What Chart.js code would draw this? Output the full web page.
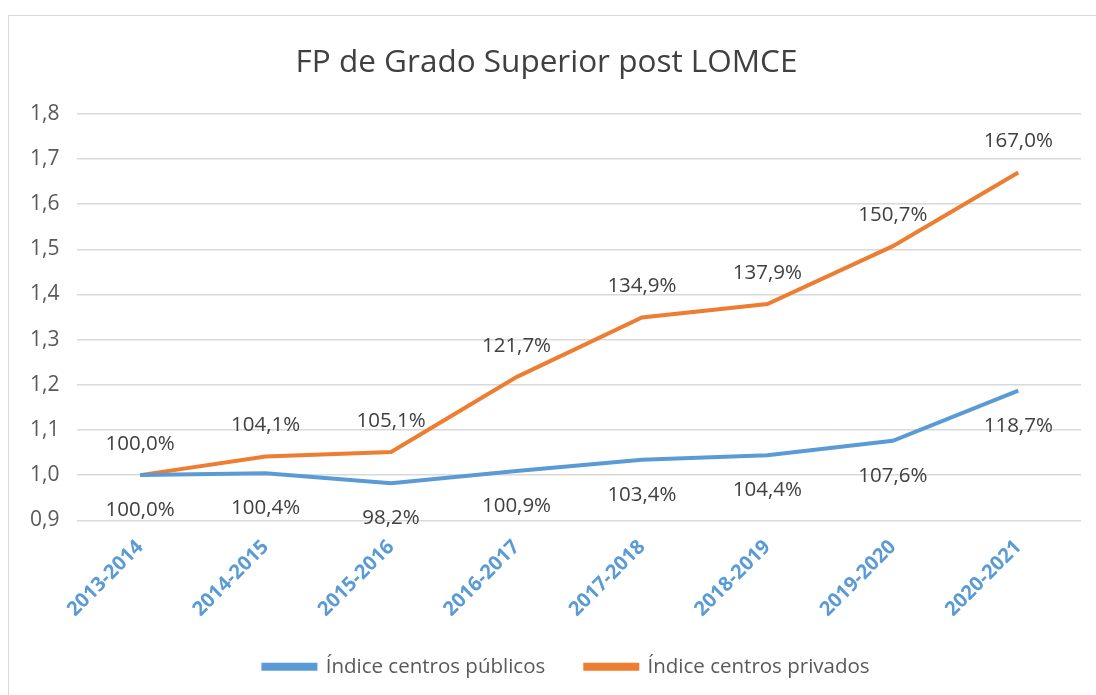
<!DOCTYPE html>
<html>
<head>
<meta charset="utf-8">
<script src="https://cdn.jsdelivr.net/npm/chart.js@4.4.0/dist/chart.umd.min.js"></script>
<style>
  html, body { margin: 0; padding: 0; background: #fff; }
  #wrap { position: relative; width: 1096px; height: 695px; }
  #frame { position: absolute; left: 8px; top: 15px; width: 1100px; height: 700px; border: 1px solid #d9d9d9; }
  canvas { position: absolute; left: 0; top: 0; }
</style>
</head>
<body>
<div id="wrap">
  <div id="frame"></div>
  <canvas id="myChart" width="1096" height="695"></canvas>
</div>
<script>
  const cursos = ["2013-2014", "2014-2015", "2015-2016", "2016-2017", "2017-2018", "2018-2019", "2019-2020", "2020-2021"];
  const publicos = [1.0, 1.004, 0.982, 1.009, 1.034, 1.044, 1.076, 1.187];
  const privados = [1.0, 1.041, 1.051, 1.217, 1.349, 1.379, 1.507, 1.670];

  const azul = "#5b9bd5";
  const naranja = "#ed7d31";
  const fuente = "'Open Sans', sans-serif";

  // etiquetas de datos: publicos debajo, privados encima
  const etiquetas = {
    id: "etiquetas",
    afterDatasetsDraw(chart) {
      const ctx = chart.ctx;
      ctx.save();
      ctx.font = "20.5px " + fuente;
      ctx.fillStyle = "#404040";
      ctx.textAlign = "center";
      ctx.textBaseline = "middle";
      chart.data.datasets.forEach((ds, i) => {
        const meta = chart.getDatasetMeta(i);
        meta.data.forEach((pt, j) => {
          const txt = (ds.data[j] * 100).toFixed(1).replace(".", ",") + "%";
          const dy = i === 0 ? 35 : -31;
          ctx.fillText(txt, pt.x, pt.y + dy);
        });
      });
      ctx.restore();
    },
  };

  // la leyenda del original no esta centrada del todo
  const moverLeyenda = {
    id: "moverLeyenda",
    afterLayout(chart) {
      chart.legend.left += 20;
      chart.legend.right += 20;
    },
  };

  const ctx = document.getElementById("myChart").getContext("2d");
  const myChart = new Chart(ctx, {
    type: "line",
    data: {
      labels: cursos,
      datasets: [
        {
          label: "Índice centros públicos",
          data: publicos,
          borderColor: azul,
          backgroundColor: azul,
          borderWidth: 4,
          pointRadius: 0,
          tension: 0,
        },
        {
          label: "Índice centros privados",
          data: privados,
          borderColor: naranja,
          backgroundColor: naranja,
          borderWidth: 4,
          pointRadius: 0,
          tension: 0,
        },
      ],
    },
    options: {
      responsive: false,
      animation: false,
      layout: { padding: { left: 12, right: 15, top: 20, bottom: 8 } },
      scales: {
        x: {
          offset: true,
          grid: { display: false },
          border: { display: false },
          ticks: {
            color: azul,
            font: { family: fuente, size: 20, weight: "bold" },
            minRotation: 45,
            maxRotation: 45,
            padding: 7,
          },
          afterFit: (scale) => {
            scale.height -= 12;
          },
        },
        y: {
          min: 0.9,
          max: 1.8,
          grid: { color: "#d9d9d9", lineWidth: 1.5, drawTicks: false },
          border: { display: false },
          ticks: {
            stepSize: 0.1,
            padding: 18,
            color: "#595959",
            font: { family: fuente, size: 21 },
            callback: (v) => v.toFixed(1).replace(".", ","),
          },
        },
      },
      plugins: {
        title: {
          display: true,
          text: "FP de Grado Superior post LOMCE",
          color: "#404040",
          font: { family: fuente, size: 31.5, weight: "normal" },
          padding: { top: 24, bottom: 32 },
        },
        legend: {
          position: "bottom",
          labels: {
            boxWidth: 52,
            boxHeight: 4,
            color: "#595959",
            font: { family: fuente, size: 20.5 },
            padding: 40,
          },
        },
        tooltip: { enabled: false },
      },
    },
    plugins: [etiquetas, moverLeyenda],
  });
</script>
</body>
</html>
